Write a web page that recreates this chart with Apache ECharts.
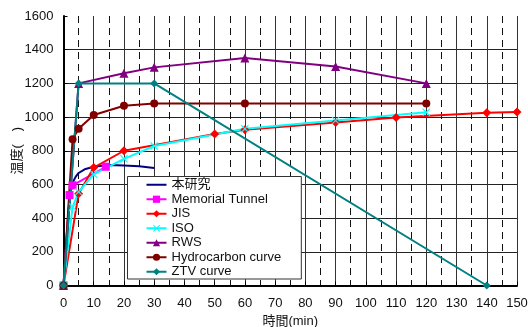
<!DOCTYPE html>
<html>
<head>
<meta charset="utf-8">
<script src="https://cdn.jsdelivr.net/npm/echarts@6/dist/echarts.min.js"></script>
<style>html,body{margin:0;padding:0;background:#fff}#c{width:528px;height:327px}</style>
</head>
<body>
<div id="c"></div>
<script>
// ---- data ----
const seriesNames = ['本研究', 'Memorial Tunnel', 'JIS', 'ISO', 'RWS', 'Hydrocarbon curve', 'ZTV curve'];

const studyT = [0, 1, 2, 3, 4, 5, 7, 10, 15, 20, 25, 30];
const studyV = [0, 280, 520, 610, 645, 668, 690, 705, 715, 713, 708, 698];

const memorialT = [0, 2, 3, 14];
const memorialV = [0, 537, 595, 705];

const jisT = [0, 5, 10, 20, 50, 60, 90, 110, 140, 150];
const jisV = [0, 545, 700, 800, 900, 925, 968, 998, 1025, 1030];

const isoT = [0, 3, 5, 10, 20, 30, 60, 90, 120];
const isoV = [0, 466, 556, 660, 752, 828, 930, 980, 1028];

const rwsT = [0, 5, 20, 30, 60, 90, 120];
const rwsV = [0, 1200, 1260, 1295, 1350, 1300, 1200];

const hcT = [0, 3, 5, 10, 20, 30, 60, 120];
const hcV = [0, 868, 930, 1012, 1067, 1080, 1080, 1080];

const ztvT = [0, 5, 30, 140];
const ztvV = [0, 1200, 1200, 0];

const xTicks = { min: 0, max: 150, interval: 10, minorInterval: 5 };
const yTicks = { min: 0, max: 1600, interval: 200 };

const zip = (t, v) => t.map((x, i) => [x, v[i]]);

const FONT = '"Liberation Sans", Arial, "Noto Sans CJK JP", sans-serif';
const crossPath = 'path://M0,1L1,0L5,4L9,0L10,1L6,5L10,9L9,10L5,6L1,10L0,9L4,5Z';
const lineOnlyIcon = 'path://M0,0L20,0L20,2L0,2Z';

function mk(name, data, color, symbol, size) {
  return {
    name, type: 'line', data,
    xAxisIndex: 0,
    symbol, symbolSize: size,
    showSymbol: symbol !== 'none',
    lineStyle: { color, width: 2 },
    itemStyle: { color },
    emphasis: { disabled: true },
    animation: false
  };
}

const chart = echarts.init(document.getElementById('c'), null, { renderer: 'canvas' });
chart.setOption({
  backgroundColor: '#fff',
  animation: false,
  textStyle: { fontFamily: FONT },
  grid: { left: 63.5, right: 11, top: 16, bottom: 41.5, containLabel: false, outerBoundsMode: 'none' },
  legend: {
    data: seriesNames.map((n, i) => i === 0 ? { name: n, icon: lineOnlyIcon } : { name: n }),
    orient: 'vertical',
    left: 127.5, top: 176.5,
    padding: [1, 20, 0, 18],
    itemWidth: 20, itemHeight: 9, itemGap: 0,
    backgroundColor: '#fff', borderColor: '#333', borderWidth: 1,
    textStyle: { fontFamily: FONT, fontSize: 13, color: '#111', lineHeight: 14.5 }
  },
  xAxis: [{
    type: 'value', min: xTicks.min, max: xTicks.max, interval: xTicks.interval,
    name: '時間(min)', nameLocation: 'middle', nameGap: 29.5, nameMoveOverlap: false,
    nameTextStyle: { fontFamily: FONT, fontSize: 13, color: '#111' },
    axisLine: { show: true, lineStyle: { color: '#000', width: 2 } },
    axisTick: { show: true, inside: true, length: 4, lineStyle: { color: '#000' } },
    axisLabel: { fontFamily: FONT, fontSize: 13, color: '#111', margin: 11 },
    splitLine: { show: true, showMinLine: false, showMaxLine: true, lineStyle: { color: '#333', width: 1 } },
    z: 1
  }, {
    type: 'value', position: 'bottom', min: xTicks.min, max: xTicks.max, interval: xTicks.minorInterval,
    axisLine: { show: false }, axisTick: { show: false }, axisLabel: { show: false },
    splitLine: { show: true, showMinLine: false, showMaxLine: false, lineStyle: { color: '#111', width: 1, type: [7, 5] } },
    z: 0
  }],
  yAxis: {
    type: 'value', min: yTicks.min, max: yTicks.max, interval: yTicks.interval,
    name: '温度(　)', nameLocation: 'middle', nameGap: 40, nameRotate: 90, nameMoveOverlap: false,
    nameTextStyle: { fontFamily: FONT, fontSize: 13, color: '#111' },
    axisLine: { show: true, lineStyle: { color: '#000', width: 2 } },
    axisTick: { show: true, inside: true, length: 4, lineStyle: { color: '#000' } },
    axisLabel: { fontFamily: FONT, fontSize: 13, color: '#111', margin: 10, formatter: v => String(v) },
    splitLine: { show: true, showMinLine: false, showMaxLine: false, lineStyle: { color: '#222', width: 1 } }
  },
  series: [
    mk(seriesNames[0], zip(studyT, studyV), '#000080', 'none', 0),
    mk(seriesNames[1], zip(memorialT, memorialV), '#FF00FF', 'rect', 8),
    mk(seriesNames[2], zip(jisT, jisV), '#FF0000', 'diamond', 9),
    mk(seriesNames[3], zip(isoT, isoV), '#00FFFF', crossPath, 8),
    mk(seriesNames[4], zip(rwsT, rwsV), '#800080', 'triangle', 9),
    mk(seriesNames[5], zip(hcT, hcV), '#800000', 'circle', 8),
    mk(seriesNames[6], zip(ztvT, ztvV), '#008080', 'diamond', 8)
  ]
});
</script>
</body>
</html>
